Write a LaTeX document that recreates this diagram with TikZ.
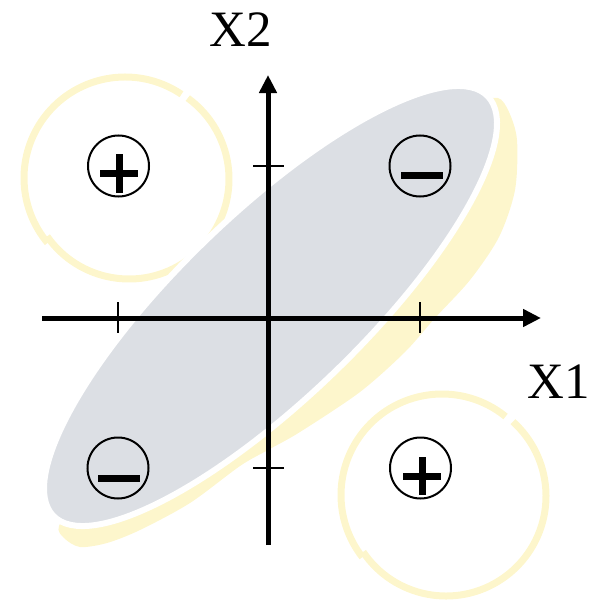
\documentclass[tikz,border=0pt]{standalone}
\usepackage{fontspec}
\setmainfont{Liberation Serif}
\usetikzlibrary{arrows.meta}
\definecolor{paleyellow}{RGB}{253,246,204}
\definecolor{ellgray}{RGB}{220,223,228}
\tikzset{
  axisline/.style={line width=5pt,-{Triangle[length=18pt,width=17pt]}},
  tickline/.style={line width=1.8pt},
  ringarc/.style={paleyellow,line width=7pt},
  signcircle/.style={circle,draw,line width=2pt,minimum size=61pt,inner sep=0pt},
  bar/.style={fill=black,draw=none},
  axlabel/.style={font=\fontsize{51}{51}\selectfont,inner sep=0pt},
}
\begin{document}
\begin{tikzpicture}[x=1pt,y=-1pt]
\useasboundingbox (0,0) rectangle (598,602);
% yellow rings (angles in y-down sense)
\draw[ringarc] ([shift={(-56:101)}]125,178) arc[start angle=-56,end angle=-220,x radius=101,y radius=101];
\draw[ringarc] ([shift={(-215:100)}]129,179) arc[start angle=-215,end angle=-414,x radius=100,y radius=100];
\draw[ringarc] ([shift={(-51:101)}]442,495) arc[start angle=-51,end angle=-218,x radius=101,y radius=101];
\draw[ringarc] ([shift={(-214:100)}]446,496) arc[start angle=-214,end angle=-408,x radius=100,y radius=100];
% yellow shadow
\fill[paleyellow] plot[smooth cycle,tension=0.5] coordinates {
  (440,150) (476,106) (498,98) (509,112) (517,140) (515,190) (499,237) (470,280)
  (435,318) (405,352) (360,392) (300,432) (268,450) (240,466) (190,503)
  (140,530) (107,543) (80,547) (64,538) (59,526) (80,500) (150,440) (270,330)};
% gray ellipse
\filldraw[fill=ellgray,draw=white,line width=6pt] (270.5,306) ellipse[x radius=302pt,y radius=92pt,rotate=44];
% axes
\coordinate (xs) at (42,318);
\coordinate (xe) at (541,318);
\coordinate (ys) at (268,545);
\coordinate (ye) at (268,75);
\draw[axisline] (xs) -- (xe);
\draw[axisline] (ys) -- (ye);
% ticks
\draw[tickline] (118,302) -- (118,333);
\draw[tickline] (420,302) -- (420,333);
\draw[tickline] (253,166) -- (284,166);
\draw[tickline] (253,468) -- (284,468);
% labels
\node[axlabel] (lx2) at (241,30) {X2};
\node[axlabel] (lx1) at (559,382) {X1};
% sign circles
\node[signcircle] (pa) at (118.5,166) {};
\node[signcircle] (mb) at (420,166) {};
\node[signcircle] (mc) at (118,468) {};
\node[signcircle] (pd) at (420.5,468) {};
% plus signs
\fill[bar] (100,169.5) rectangle (138,177);
\fill[bar] (115.5,154) rectangle (122.5,193);
\fill[bar] (403,472.5) rectangle (441,480);
\fill[bar] (418.5,457) rectangle (425.5,495);
% minus signs
\fill[bar] (401,172) rectangle (443,178.5);
\fill[bar] (98,475) rectangle (140,481.5);
\end{tikzpicture}
\end{document}
